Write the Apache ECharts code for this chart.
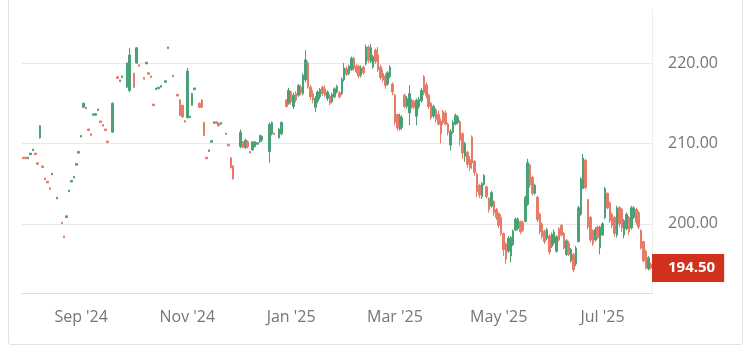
<!DOCTYPE html>
<html>
<head>
<meta charset="utf-8">
<script src="https://cdn.jsdelivr.net/npm/echarts@6/dist/echarts.min.js"></script>
<style>
  html, body { margin: 0; padding: 0; background: #fff; }
  #card {
    position: absolute; left: 8px; top: -4px; width: 735px; height: 349px;
    border: 1px solid #e2e2e2; border-radius: 3px; box-sizing: border-box;
  }
  #chart { position: absolute; left: 0; top: 0; width: 750px; height: 355px; }
</style>
</head>
<body>
<div id="card"></div>
<div id="chart"></div>
<script>
// trading days (weekdays) from this date on, one per candle
const startDate = '2024-07-30';
const labelDates = ['2024-09-02', '2024-11-01', '2025-01-01', '2025-03-03', '2025-05-01', '2025-07-01'];
const labelTexts = ["Sep '24", "Nov '24", "Jan '25", "Mar '25", "May '25", "Jul '25"];
const priceTicks = [200, 210, 220];

// [open, close, low, high], '-' = no trades that day
const candles = [
  [208.3,208.1,208.1,208.3], [208.3,208.1,208.1,208.3], [208.1,208.3,208.1,208.3], [208.6,208.8,208.6,208.8],
  [209.1,209.3,209.1,209.3], [208.8,208.6,208.6,208.8], [207.6,207.4,207.4,207.6], [210.7,212.2,210.6,212.3],
  [207.2,207.0,207.0,207.2], [205.7,205.5,205.5,205.7], [205.3,205.1,205.1,205.3], [204.5,204.3,204.3,204.5],
  [206.1,206.3,206.1,206.3], '-', [203.1,203.3,203.1,203.3], '-',
  [200.2,200.0,200.0,200.2], [198.5,198.3,198.3,198.5], [200.8,201.0,200.8,201.0], [204.0,204.2,204.0,204.2],
  [205.2,205.4,205.2,205.4], [205.7,205.9,205.7,205.9], [207.3,207.5,207.3,207.5], [208.8,209.0,208.8,209.0],
  [210.8,211.0,210.8,211.0], [214.5,215.0,214.4,215.1], [214.5,214.3,214.3,214.5], [211.8,211.6,211.6,211.8],
  [211.2,211.0,211.0,211.2], [213.5,213.7,213.5,213.7], [213.5,213.7,213.5,213.7], [214.1,214.3,214.1,214.3],
  [212.8,212.6,212.6,212.8], [212.35,212.15,212.15,212.35], [211.8,211.6,211.6,211.8], [210.3,210.1,210.1,210.3],
  '-', [211.4,215.0,211.3,215.1], '-', [218.3,218.1,218.1,218.3],
  [217.7,217.9,217.7,217.9], [218.2,218.4,218.2,218.4], '-', [217.0,220.0,216.9,220.1],
  [216.6,221.0,216.4,221.9], '-', [218.7,217.0,216.9,218.8], [220.0,221.9,219.9,222.0],
  [219.8,219.6,219.6,219.8], '-', [218.2,218.0,218.0,218.2], [219.9,220.1,219.9,220.1],
  [218.8,218.6,218.6,218.8], [218.4,218.2,218.2,218.4], [214.9,214.7,214.7,214.9], [216.7,216.9,216.7,216.9],
  [216.8,217.0,216.8,217.0], [217.0,217.2,217.0,217.2], '-', [217.6,217.8,217.6,217.8],
  [221.8,222.0,221.8,222.0], '-', [218.5,218.3,218.3,218.5], '-',
  [216.1,215.9,215.9,216.1], [215.4,213.5,213.4,215.5], [214.75,213.3,213.2,214.8], [212.85,212.65,212.65,212.85],
  [213.2,219.0,213.1,219.4], [213.2,213.4,213.2,213.4], [214.75,216.2,214.7,216.3], [216.7,216.9,216.7,216.9],
  '-', [215.0,214.5,214.4,215.1], [215.4,214.5,214.4,215.5], [212.6,211.0,210.9,212.7],
  [208.3,208.1,208.1,208.3], [209.0,209.2,209.0,209.2], [210.15,210.35,210.15,210.35], [212.5,212.7,212.5,212.7],
  [212.7,212.5,212.5,212.7], [212.5,212.2,212.1,212.6], [212.4,212.6,212.4,212.6], '-',
  [211.3,211.1,211.1,211.3], [209.9,209.7,209.7,209.9], [208.2,207.0,206.9,208.3], [207.2,205.6,205.5,207.3],
  '-', '-', [209.6,211.4,209.4,211.75], [210.25,209.5,209.4,210.3],
  [209.5,210.4,209.3,210.6], [210.2,209.6,209.4,210.4], [209.0,208.8,208.8,209.0], [209.2,210.2,209.1,210.25],
  [209.6,210.2,209.5,210.3], [209.9,210.1,209.9,210.1], [210.2,211.0,210.1,211.1], [210.4,210.9,210.2,211.0],
  '-', '-', [209.0,212.4,207.6,212.6], [211.2,212.6,211.0,212.75],
  [211.3,211.1,211.1,211.3], '-', [210.7,211.8,210.6,211.9], [211.2,212.6,211.0,212.75],
  '-', [215.4,214.6,214.5,215.5], [215.0,216.6,214.8,216.9], [216.4,215.2,214.8,216.6],
  [214.6,216.0,214.3,216.3], [216.2,215.4,215.1,216.5], [216.0,217.2,215.8,217.4], [217.0,216.3,216.0,217.3],
  [216.2,218.5,216.0,218.7], [217.9,220.4,217.6,221.6], [220.0,217.0,216.8,220.3], [217.0,215.8,215.4,217.3],
  [216.2,215.4,215.0,216.6], [214.5,215.6,213.9,215.9], [215.3,216.4,215.0,216.6], [215.8,216.7,215.5,216.9],
  [217.0,216.2,215.9,217.2], [216.8,216.0,215.8,217.2], [215.6,216.4,215.3,216.6], [215.9,215.0,214.75,216.1],
  [215.2,216.1,215.0,216.3], [215.8,216.8,215.6,217.0], [216.4,217.1,216.2,217.3], [216.3,215.8,215.6,216.5],
  [216.2,218.0,216.0,218.2], [217.9,219.4,217.7,220.0], [219.3,218.6,218.4,219.6], [218.7,219.6,218.5,219.8],
  [219.2,220.6,219.0,220.8], [220.6,219.3,219.0,220.8], [219.6,218.9,218.7,219.9], [219.6,218.4,218.1,219.8],
  [218.5,219.4,218.2,219.7], [219.5,218.8,218.6,219.7], [219.9,222.0,219.7,222.3], [222.0,220.3,220.0,222.2],
  [220.2,221.9,220.0,222.4], [219.5,220.8,219.3,221.0], [221.6,220.2,219.9,221.8], [221.0,219.2,218.9,222.0],
  [219.5,218.2,217.9,219.8], [218.7,217.9,217.6,219.2], [218.4,217.2,216.8,218.7], [217.4,218.8,217.2,219.0],
  [218.3,219.5,218.1,219.75], [217.4,216.4,216.0,217.6], [216.0,212.6,212.25,216.2], [213.6,211.9,211.6,213.7],
  [211.8,213.4,211.6,213.7], [212.0,213.2,211.7,213.5], [216.0,214.6,214.4,216.2], [214.6,215.6,214.3,215.9],
  [213.8,216.2,212.25,217.25], [215.4,214.5,214.3,215.6], [215.2,214.5,214.2,215.4], [213.4,215.4,212.25,215.6],
  [214.6,215.5,214.3,215.8], [215.3,216.6,215.1,216.9], [218.3,216.3,216.0,218.5], [217.3,216.0,215.6,217.6],
  [216.0,214.6,214.3,216.2], [215.0,213.2,212.9,215.2], [213.4,214.6,213.2,214.8], [214.2,213.0,212.6,214.4],
  [213.6,212.4,212.25,214.1], [212.8,211.2,210.0,213.1], [214.0,212.6,212.3,214.2], [213.8,212.4,212.25,214.1],
  [212.4,211.4,211.0,212.6], [209.8,211.5,209.1,211.8], [211.4,212.6,211.2,212.9], [212.4,213.5,212.25,213.7],
  [212.6,213.3,212.4,213.5], [212.7,210.4,209.75,212.9], [211.2,208.8,208.1,211.4], [208.4,210.0,207.7,210.2],
  [208.9,207.4,207.0,209.1], [208.0,207.0,206.6,208.4], [210.8,207.6,206.8,211.0], [207.8,206.4,206.0,207.9],
  [206.2,204.0,203.3,206.4], [204.8,203.6,203.2,205.0], [203.4,205.0,203.1,205.2], [204.9,206.0,204.75,206.2],
  [204.6,203.4,203.2,204.8], [203.2,201.8,201.4,203.3], [202.2,203.9,202.0,204.1], [202.8,201.4,201.0,202.9],
  [201.8,200.8,200.5,202.0], [201.3,199.8,199.5,201.4], [200.8,198.8,198.5,201.2], [198.8,196.8,196.0,198.9],
  [197.5,195.6,195.0,197.7], [196.6,198.2,196.4,198.5], [196.0,198.3,195.2,198.5], [197.4,199.1,197.25,199.3],
  [199.2,200.6,199.1,200.8], [199.4,200.6,199.2,200.8], [200.3,199.0,198.7,200.4], [200.2,199.2,199.0,200.4],
  [200.3,203.3,200.2,203.5], [202.4,207.6,202.25,208.1], [207.3,204.8,204.5,207.5], [205.8,203.8,203.5,206.0],
  [203.8,204.8,203.6,205.0], [203.3,200.5,200.2,203.5], [201.2,199.0,198.7,201.4], [200.0,198.4,198.1,200.2],
  [199.1,197.8,197.5,199.3], [198.2,199.3,198.0,199.5], [198.5,196.5,196.2,198.7], [197.2,198.7,197.0,198.9],
  [197.6,199.0,197.4,199.3], [196.6,198.4,196.4,198.6], [199.4,198.0,197.8,199.6], [199.8,198.6,198.4,200.0],
  [198.8,197.0,196.8,199.0], [196.2,197.9,196.0,198.1], [197.6,196.2,196.0,197.9], [195.4,196.8,195.2,197.0],
  [196.2,194.3,194.0,196.4], [195.0,197.0,194.75,197.25], [197.8,202.0,197.7,202.25], [201.2,205.6,201.0,205.8],
  [204.4,208.2,204.3,208.7], [207.9,204.5,204.3,208.1], [203.0,199.6,199.3,203.1], [200.8,198.0,197.7,201.0],
  [199.2,197.5,197.25,199.3], [198.0,199.3,197.8,199.6], [199.6,198.3,198.1,199.8], [197.0,199.6,196.2,199.75],
  [198.6,200.0,198.5,200.2], [200.8,204.4,200.6,204.6], [203.8,202.0,201.8,203.9], [202.6,200.4,200.1,202.8],
  [201.2,199.8,199.5,201.4], [200.8,198.8,198.4,201.0], [198.6,202.0,198.3,202.25], [202.0,200.0,199.6,202.2],
  [201.8,199.5,199.0,202.0], [198.6,200.4,198.2,200.6], [199.4,201.2,199.2,201.4], [200.8,199.0,198.6,201.0],
  [199.5,202.0,199.3,202.25], [200.8,202.0,200.6,202.2], [201.8,200.2,199.9,202.0], [201.4,199.6,199.3,201.6],
  [199.2,197.0,196.8,199.3], [197.8,195.4,195.2,197.9], [196.6,194.5,194.3,196.8], [194.4,195.8,194.2,196.0],
  [195.0,194.5,194.3,195.2]
];

const upColor = '#4ba176';
const downColor = '#e67b67';
const labelColor = '#757575';

// weekday calendar for the category axis
const dates = [];
const d = new Date(startDate + 'T00:00:00Z');
while (dates.length < candles.length) {
  const wd = d.getUTCDay();
  if (wd !== 0 && wd !== 6) dates.push(d.toISOString().slice(0, 10));
  d.setUTCDate(d.getUTCDate() + 1);
}

const lastClose = candles[candles.length - 1][1];
const isLabelDay = (idx, val) => labelDates.indexOf(val) >= 0;

const chart = echarts.init(document.getElementById('chart'));
chart.setOption({
  animation: false,
  textStyle: { fontFamily: 'Open Sans' },
  grid: { left: 22, right: 98, top: 10, bottom: 62 },
  xAxis: {
    type: 'category',
    data: dates,
    axisLine: { lineStyle: { color: '#dcdcdc' } },
    axisTick: { alignWithLabel: true, interval: isLabelDay, length: 5, lineStyle: { color: '#dcdcdc' } },
    axisLabel: {
      interval: isLabelDay,
      color: labelColor,
      fontSize: 16,
      margin: 16,
      formatter: (val) => labelTexts[labelDates.indexOf(val)]
    },
    splitLine: { show: false }
  },
  yAxis: {
    type: 'value',
    position: 'right',
    min: 191.4,
    max: 226.6,
    axisLine: { show: true, lineStyle: { color: '#ececec' } },
    axisTick: { show: false, customValues: priceTicks },
    axisLabel: {
      customValues: priceTicks,
      color: labelColor,
      fontSize: 16,
      margin: 16,
      formatter: (v) => v.toFixed(2)
    },
    splitLine: { lineStyle: { color: '#e8e8e8' } }
  },
  series: [{
    type: 'candlestick',
    data: candles,
    barWidth: 2,
    clip: false,
    itemStyle: {
      color: upColor,
      color0: downColor,
      borderColor: upColor,
      borderColor0: downColor,
      borderWidth: 1
    },
    markLine: {
      silent: true,
      symbol: ['none', 'none'],
      lineStyle: { color: 'transparent', width: 0 },
      label: {
        show: true,
        position: 'end',
        distance: 0,
        formatter: lastClose.toFixed(2),
        backgroundColor: '#d22f1c',
        color: '#fff',
        fontWeight: 'bold',
        fontSize: 15,
        padding: [7, 9, 6, 16]
      },
      data: [{ yAxis: lastClose }]
    }
  }]
});
</script>
</body>
</html>
